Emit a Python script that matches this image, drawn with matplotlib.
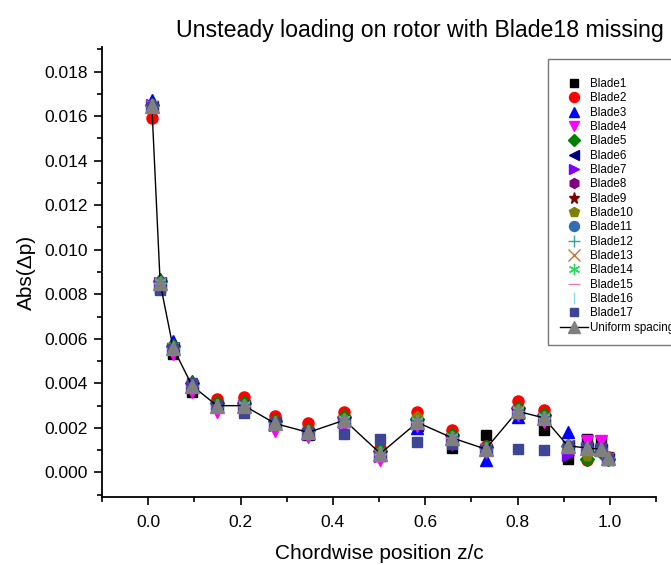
import numpy as np
import matplotlib
matplotlib.use("Agg")
import matplotlib.pyplot as plt
from matplotlib.ticker import MultipleLocator, FormatStrFormatter

plt.rcParams['font.family'] = ['Liberation Sans', 'DejaVu Sans']

# chordwise stations
z_c = [0.008, 0.026, 0.054, 0.095, 0.149, 0.208, 0.275, 0.347, 0.425, 0.503,
       0.583, 0.659, 0.731, 0.800, 0.857, 0.909, 0.950, 0.980, 0.997]

uniform = [0.01645, 0.00850, 0.00560, 0.00390, 0.00300, 0.00300, 0.00220, 0.00180, 0.00235, 0.00085,
           0.00225, 0.00155, 0.00105, 0.00275, 0.00245, 0.00120, 0.00110, 0.00105, 0.00063]

blade1 = [0.01640, 0.00830, 0.00530, 0.00360, 0.00300, 0.00310, 0.00220, 0.00170, 0.00230, 0.00085,
          0.00220, 0.00110, 0.00170, 0.00270, 0.00190, 0.00060, 0.00150, 0.00140, 0.00070]
blade2 = [0.01590, 0.00850, 0.00560, 0.00390, 0.00330, 0.00340, 0.00255, 0.00220, 0.00270, 0.00110,
          0.00270, 0.00190, 0.00120, 0.00320, 0.00280, 0.00120, 0.00055, 0.00100, 0.00070]
blade3 = [0.01670, 0.00870, 0.00590, 0.00410, 0.00310, 0.00310, 0.00230, 0.00190, 0.00230, 0.00080,
          0.00200, 0.00150, 0.00055, 0.00250, 0.00260, 0.00180, 0.00120, 0.00100, 0.00060]
blade4 = [0.01630, 0.00830, 0.00530, 0.00360, 0.00270, 0.00300, 0.00185, 0.00160, 0.00210, 0.00055,
          0.00210, 0.00130, 0.00090, 0.00260, 0.00225, 0.00100, 0.00140, 0.00140, 0.00055]
blade5 = [0.01650, 0.00860, 0.00570, 0.00400, 0.00310, 0.00310, 0.00230, 0.00190, 0.00250, 0.00095,
          0.00240, 0.00170, 0.00115, 0.00290, 0.00260, 0.00120, 0.00060, 0.00090, 0.00060]
blade6 = [0.01640, 0.00850, 0.00560, 0.00390, 0.00300, 0.00300, 0.00220, 0.00175, 0.00230, 0.00080,
          0.00215, 0.00150, 0.00100, 0.00265, 0.00240, 0.00120, 0.00110, 0.00100, 0.00060]
blade7 = [0.01650, 0.00850, 0.00555, 0.00385, 0.00295, 0.00300, 0.00215, 0.00175, 0.00225, 0.00075,
          0.00220, 0.00150, 0.00100, 0.00270, 0.00240, 0.00080, 0.00110, 0.00100, 0.00060]
blade8 = [0.01645, 0.00845, 0.00560, 0.00390, 0.00300, 0.00300, 0.00220, 0.00180, 0.00230, 0.00085,
          0.00225, 0.00155, 0.00105, 0.00270, 0.00245, 0.00120, 0.00110, 0.00105, 0.00063]
blade9 = [0.01645, 0.00850, 0.00555, 0.00385, 0.00300, 0.00300, 0.00215, 0.00175, 0.00230, 0.00080,
          0.00225, 0.00155, 0.00105, 0.00275, 0.00245, 0.00115, 0.00100, 0.00105, 0.00063]
blade10 = [0.01650, 0.00855, 0.00565, 0.00395, 0.00305, 0.00305, 0.00225, 0.00185, 0.00240, 0.00090,
           0.00250, 0.00160, 0.00110, 0.00280, 0.00250, 0.00110, 0.00075, 0.00100, 0.00063]
blade11 = [0.01645, 0.00850, 0.00560, 0.00390, 0.00300, 0.00300, 0.00220, 0.00180, 0.00230, 0.00085,
           0.00225, 0.00155, 0.00105, 0.00265, 0.00245, 0.00120, 0.00110, 0.00105, 0.00063]
blade12 = [0.01645, 0.00850, 0.00560, 0.00390, 0.00300, 0.00300, 0.00220, 0.00175, 0.00230, 0.00085,
           0.00225, 0.00155, 0.00100, 0.00270, 0.00245, 0.00120, 0.00110, 0.00105, 0.00063]
blade13 = [0.01645, 0.00850, 0.00560, 0.00390, 0.00300, 0.00300, 0.00220, 0.00180, 0.00230, 0.00080,
           0.00225, 0.00155, 0.00105, 0.00275, 0.00245, 0.00120, 0.00110, 0.00105, 0.00063]
blade14 = [0.01650, 0.00855, 0.00565, 0.00395, 0.00305, 0.00305, 0.00225, 0.00185, 0.00240, 0.00090,
           0.00230, 0.00160, 0.00110, 0.00280, 0.00250, 0.00125, 0.00110, 0.00105, 0.00063]
blade15 = [0.01645, 0.00850, 0.00560, 0.00390, 0.00300, 0.00300, 0.00220, 0.00180, 0.00230, 0.00085,
           0.00225, 0.00155, 0.00105, 0.00275, 0.00245, 0.00120, 0.00110, 0.00105, 0.00063]
blade16 = [0.01645, 0.00850, 0.00560, 0.00390, 0.00300, 0.00300, 0.00220, 0.00180, 0.00230, 0.00085,
           0.00225, 0.00155, 0.00105, 0.00275, 0.00245, 0.00120, 0.00110, 0.00105, 0.00063]
blade17 = [0.01640, 0.00820, 0.00555, 0.00400, 0.00300, 0.00265, 0.00220, 0.00180, 0.00175, 0.00150,
           0.00135, 0.00130, 0.00100, 0.00105, 0.00100, 0.00120, 0.00110, 0.00110, 0.00060]

blades = [blade1, blade2, blade3, blade4, blade5, blade6, blade7, blade8, blade9,
          blade10, blade11, blade12, blade13, blade14, blade15, blade16, blade17]
blade_names = ["Blade%d" % (i + 1) for i in range(17)]
markers = ['s', 'o', '^', 'v', 'D', '<', '>', 'h', '*', 'p', 'o', '+', 'x', (6, 2, 0), '_', '|', 's']
colors = ['black', 'red', 'blue', 'magenta', 'green', 'navy', '#8000ff', 'purple', '#800000',
          'olive', '#2f6db5', '#3a9f9f', '#c07838', '#22dd55', '#e080b0', '#80e0e0', '#3c4596']
sizes = [7, 8, 8, 8, 7, 8, 8, 8, 9, 8, 8, 9, 9, 9, 9, 9, 7]

fig = plt.figure(figsize=(6.71, 5.65), dpi=100)
ax = fig.add_axes([102 / 671, 1 - 497 / 565, (656 - 102) / 671, (497 - 47) / 565])

handles = []
for vals, name, m, c, s in zip(blades, blade_names, markers, colors, sizes):
    h, = ax.plot(z_c, vals, linestyle='none', marker=m, color=c, markersize=s,
                 markeredgewidth=1.0, label=name)
    handles.append(h)

h, = ax.plot(z_c, uniform, color='black', linewidth=1.0, marker='^', markersize=10,
             markerfacecolor='#808080', markeredgecolor='#808080', label='Uniform spacing')
handles.append(h)

ax.set_xlim(-0.1, 1.1)
ax.set_ylim(-0.0011, 0.0191)
ax.xaxis.set_major_locator(MultipleLocator(0.2))
ax.xaxis.set_minor_locator(MultipleLocator(0.1))
ax.yaxis.set_major_locator(MultipleLocator(0.002))
ax.yaxis.set_minor_locator(MultipleLocator(0.001))
ax.xaxis.set_major_formatter(FormatStrFormatter('%.1f'))
ax.yaxis.set_major_formatter(FormatStrFormatter('%.3f'))
ax.spines['top'].set_visible(False)
ax.spines['right'].set_visible(False)
for sp in ['left', 'bottom']:
    ax.spines[sp].set_linewidth(1.3)
ax.tick_params(which='major', direction='out', length=6, width=1.2, labelsize=12.5, pad=4)
ax.tick_params(which='minor', direction='out', length=3.5, width=1.2)
ax.tick_params(axis='x', pad=7)

ax.set_xlabel("Chordwise position z/c", fontsize=15, labelpad=10)
ax.set_ylabel("Abs(\u0394p)", fontsize=15, labelpad=6)
fig.text(420 / 671, 1 - 30 / 565, "Unsteady loading on rotor with Blade18 missing",
         ha='center', va='center', fontsize=16.7)

leg = fig.legend(handles=handles, loc='upper left', bbox_to_anchor=(548 / 671, 1 - 59 / 565),
                 fontsize=8.4, numpoints=1, markerscale=0.9, frameon=True, fancybox=False,
                 edgecolor='#555555', borderpad=1.0, labelspacing=0.2, handlelength=2.4,
                 handletextpad=0.17, borderaxespad=0, title=' ', title_fontsize=4)
leg.get_frame().set_linewidth(1.0)

fig.savefig("out.png", dpi=100)
